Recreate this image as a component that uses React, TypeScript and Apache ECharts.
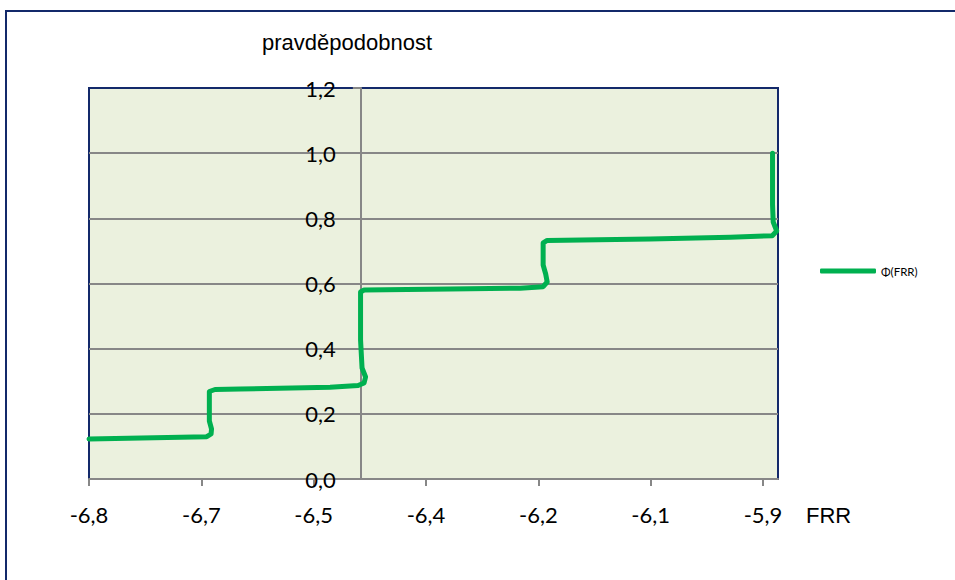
import React, { useEffect, useRef } from 'react';
import * as echarts from 'echarts';

// Axis setup
const X_MIN = -6.8;
const X_MAX = -5.88;
const X_STEP = 0.15;
const X_CROSS = -6.437; // where the vertical axis crosses
const xTickLabels = ['-6,8', '-6,7', '-6,5', '-6,4', '-6,2', '-6,1', '-5,9'];

const Y_MIN = 0;
const Y_MAX = 1.2;
const Y_STEP = 0.2;
const yTickLabels = ['0,0', '0,2', '0,4', '0,6', '0,8', '1,0', '1,2'];

// Series Φ(FRR)
const frrValues = [
  -6.8, -6.6428, -6.637, -6.6364, -6.6393, -6.6393, -6.6317, -6.5983, -6.4781,
  -6.4407, -6.4327, -6.4307, -6.4354, -6.4374, -6.4374, -6.4327, -6.3178, -6.2243,
  -6.1936, -6.1882, -6.1902, -6.1936, -6.1936, -6.1882, -6.0507, -5.9438, -5.8877,
  -5.8817, -5.8864, -5.8873, -5.8873,
];
const phiValues = [
  0.1228, 0.1298, 0.1381, 0.1535, 0.178, 0.2685, 0.2747, 0.276, 0.2814,
  0.287, 0.2946, 0.313, 0.3407, 0.4266, 0.574, 0.58, 0.5835, 0.5855,
  0.5902, 0.6046, 0.6291, 0.6568, 0.7243, 0.732, 0.7366, 0.7418, 0.7467,
  0.7611, 0.7887, 0.8409, 1.0,
];

const seriesName = 'Φ(FRR)';
const xAxisTitle = 'FRR';
const yAxisTitle = 'pravděpodobnost';

const FONT = 'Lato, "Liberation Sans", sans-serif';
const NAVY = '#13296a';
const GRAY = '#878787';
const GREEN = '#00b050';

export default function App() {
  const ref = useRef<HTMLDivElement>(null);

  useEffect(() => {
    if (!ref.current) return;
    const chart = echarts.init(ref.current, null, { renderer: 'svg' });
    const GRID = { left: 89, top: 88, width: 689, height: 391 };
    const span = X_MAX - X_MIN;
    const crossOffset = -((X_CROSS - X_MIN) / span) * GRID.width;
    const data = frrValues.map((x, i) => [x - X_MIN, phiValues[i]]);
    const xTickValues = xTickLabels.map((_, i) => i * X_STEP);

    chart.setOption({
      animation: false,
      backgroundColor: '#ffffff',
      textStyle: { fontFamily: FONT },
      grid: {
        ...GRID,
        show: true,
        backgroundColor: '#ebf1de',
        borderColor: NAVY,
        borderWidth: 2,
      },
      legend: {
        left: 820,
        top: 265,
        padding: 0,
        itemWidth: 56,
        itemHeight: 5,
        icon: 'roundRect',
        data: [seriesName],
        textStyle: { fontSize: 11.5, color: '#000', fontFamily: FONT },
      },
      xAxis: {
        type: 'value',
        min: 0,
        max: span,
        axisLine: { show: true, onZero: false, lineStyle: { color: GRAY, width: 2 } },
        axisTick: {
          show: true,
          length: 7,
          customValues: xTickValues,
          lineStyle: { color: GRAY, width: 2 },
        },
        axisLabel: {
          customValues: xTickValues,
          formatter: (v: number) => {
            const k = Math.round(v / X_STEP);
            return Math.abs(v / X_STEP - k) < 1e-6 ? xTickLabels[k] ?? '' : '';
          },
          fontSize: 22,
          color: '#000',
          margin: 24,
          fontFamily: FONT,
        },
        splitLine: { show: false },
      },
      yAxis: {
        type: 'value',
        min: Y_MIN,
        max: Y_MAX,
        interval: Y_STEP,
        offset: crossOffset,
        axisLine: { show: true, lineStyle: { color: GRAY, width: 2 } },
        axisTick: { show: true, length: 8, lineStyle: { color: GRAY, width: 2 } },
        axisLabel: {
          formatter: (v: number) => yTickLabels[Math.round(v / Y_STEP)] ?? '',
          fontSize: 22,
          color: '#000',
          margin: 25,
          fontFamily: FONT,
        },
        splitLine: {
          show: true,
          showMinLine: false,
          showMaxLine: false,
          lineStyle: { color: GRAY, width: 2 },
        },
      },
      series: [
        {
          type: 'line',
          name: seriesName,
          data,
          symbol: 'none',
          showSymbol: false,
          itemStyle: { color: GREEN },
          lineStyle: { color: GREEN, width: 5, cap: 'round', join: 'round' },
        },
      ],
      graphic: [
        {
          type: 'rect',
          shape: { x: 6, y: 11, width: 1000, height: 1000 },
          style: { fill: 'none', stroke: NAVY, lineWidth: 2 },
          silent: true,
        },
        {
          type: 'text',
          x: 262,
          y: 31,
          style: { text: yAxisTitle, fontSize: 22, fill: '#000', font: `22px ${FONT}` },
        },
        {
          type: 'text',
          x: 806,
          y: 504,
          style: { text: xAxisTitle, fontSize: 22, fill: '#000', font: `22px ${FONT}` },
        },
      ],
    });

    return () => chart.dispose();
  }, []);

  return (
    <div
      ref={ref}
      style={{ position: 'absolute', left: 0, top: 0, width: 955, height: 580 }}
    />
  );
}
